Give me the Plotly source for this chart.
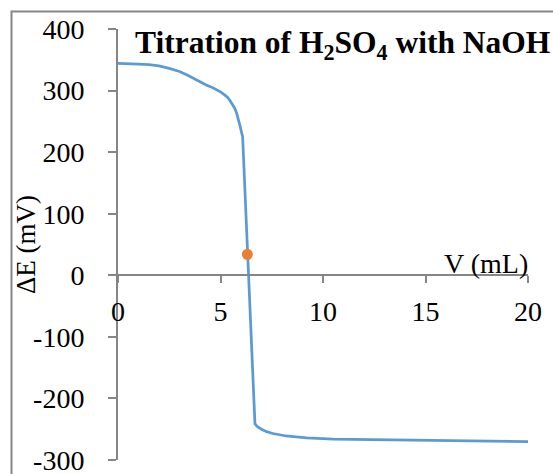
import plotly.graph_objects as go

# Titration curve: volume of NaOH added (mL) vs. potential change (mV)
volume_ml = [0, 0.5, 1, 1.5, 2, 2.5, 3, 3.4, 3.66, 4.0, 4.3, 4.6, 4.8, 5.0,
             5.2, 5.35, 5.46, 5.6, 5.7, 5.79, 5.88, 5.95, 6.02, 6.08,
             6.68, 6.8, 7.0, 7.25, 7.56, 8.2, 9.2, 10.5, 12.4, 15, 17.5, 20]
delta_e_mv = [344, 344, 343, 342, 340, 336, 331, 325, 320, 314, 309, 305,
              302, 298, 293, 289, 284, 277, 271, 263, 253, 243, 233, 225,
              -241, -246, -250, -254, -257, -261, -264, -266, -267, -268,
              -269, -270]

# Equivalence point marker
eq_volume = [6.31]
eq_delta_e = [34]

x_ticks = [0, 5, 10, 15, 20]
y_ticks = [400, 300, 200, 100, 0, -100, -200, -300]
y_tick_text = ["400", "300", "200", "100", "0", "-100", "-200", "-300"]

W, H = 553, 474
ML, MR, MT, MB = 118, 25, 29, 14
PW, PH = W - ML - MR, H - MT - MB

def px_x(p):
    return (p - ML) / PW

def px_y(p):
    return (H - MB - p) / PH

FONT = "Liberation Serif, Times New Roman, serif"
AXIS_GREY = "#868686"
TICK_SIZE = 28

fig = go.Figure()
fig.add_trace(go.Scatter(
    x=volume_ml, y=delta_e_mv, mode="lines",
    line=dict(color="#5B9BD5", width=2.75),
    showlegend=False, hoverinfo="skip",
))
fig.add_trace(go.Scatter(
    x=eq_volume, y=eq_delta_e, mode="markers",
    marker=dict(color="#ED7D31", size=11),
    showlegend=False, hoverinfo="skip",
))

fig.update_layout(
    width=W, height=H,
    margin=dict(l=ML, r=MR, t=MT, b=MB, autoexpand=False),
    paper_bgcolor="white", plot_bgcolor="white",
    font=dict(family=FONT, size=TICK_SIZE, color="black"),
    xaxis=dict(
        range=[0, 20], tickvals=x_ticks, showgrid=False, zeroline=False,
        showline=True, linecolor=AXIS_GREY, linewidth=2,
        ticks="outside", ticklen=7, tickwidth=2, tickcolor=AXIS_GREY,
        anchor="free", position=3 / 7, automargin=False,
        ticklabelstandoff=4, ticklabeloverflow="allow",
        tickfont=dict(family=FONT, size=TICK_SIZE),
    ),
    yaxis=dict(
        range=[-300, 400], tickvals=y_ticks, ticktext=y_tick_text,
        showgrid=False, zeroline=False, automargin=False,
        showline=True, linecolor=AXIS_GREY, linewidth=2,
        ticks="outside", ticklen=8, tickwidth=2, tickcolor=AXIS_GREY,
        ticklabelstandoff=18, ticklabeloverflow="allow",
        tickfont=dict(family=FONT, size=TICK_SIZE),
    ),
    shapes=[dict(
        type="rect", xref="paper", yref="paper",
        x0=px_x(11.5), x1=1.3, y0=-0.3, y1=px_y(11.5),
        line=dict(color=AXIS_GREY, width=2), layer="below",
    )],
    annotations=[
        dict(text="<b>Titration of H<sub>2</sub>SO<sub>4</sub> with NaOH</b>",
             xref="paper", yref="paper", x=px_x(133), y=px_y(45),
             xanchor="left", yanchor="middle", showarrow=False,
             font=dict(family=FONT, size=31.5, color="black")),
        dict(text="V (mL)", xref="paper", yref="paper",
             x=px_x(530), y=px_y(263), xanchor="right", yanchor="middle",
             showarrow=False, font=dict(family=FONT, size=TICK_SIZE, color="black")),
        dict(text="ΔE (mV)", xref="paper", yref="paper",
             x=px_x(26), y=px_y(245), xanchor="center", yanchor="middle",
             textangle=-90, showarrow=False,
             font=dict(family=FONT, size=27, color="black")),
    ],
)

fig.write_html("out.html")
